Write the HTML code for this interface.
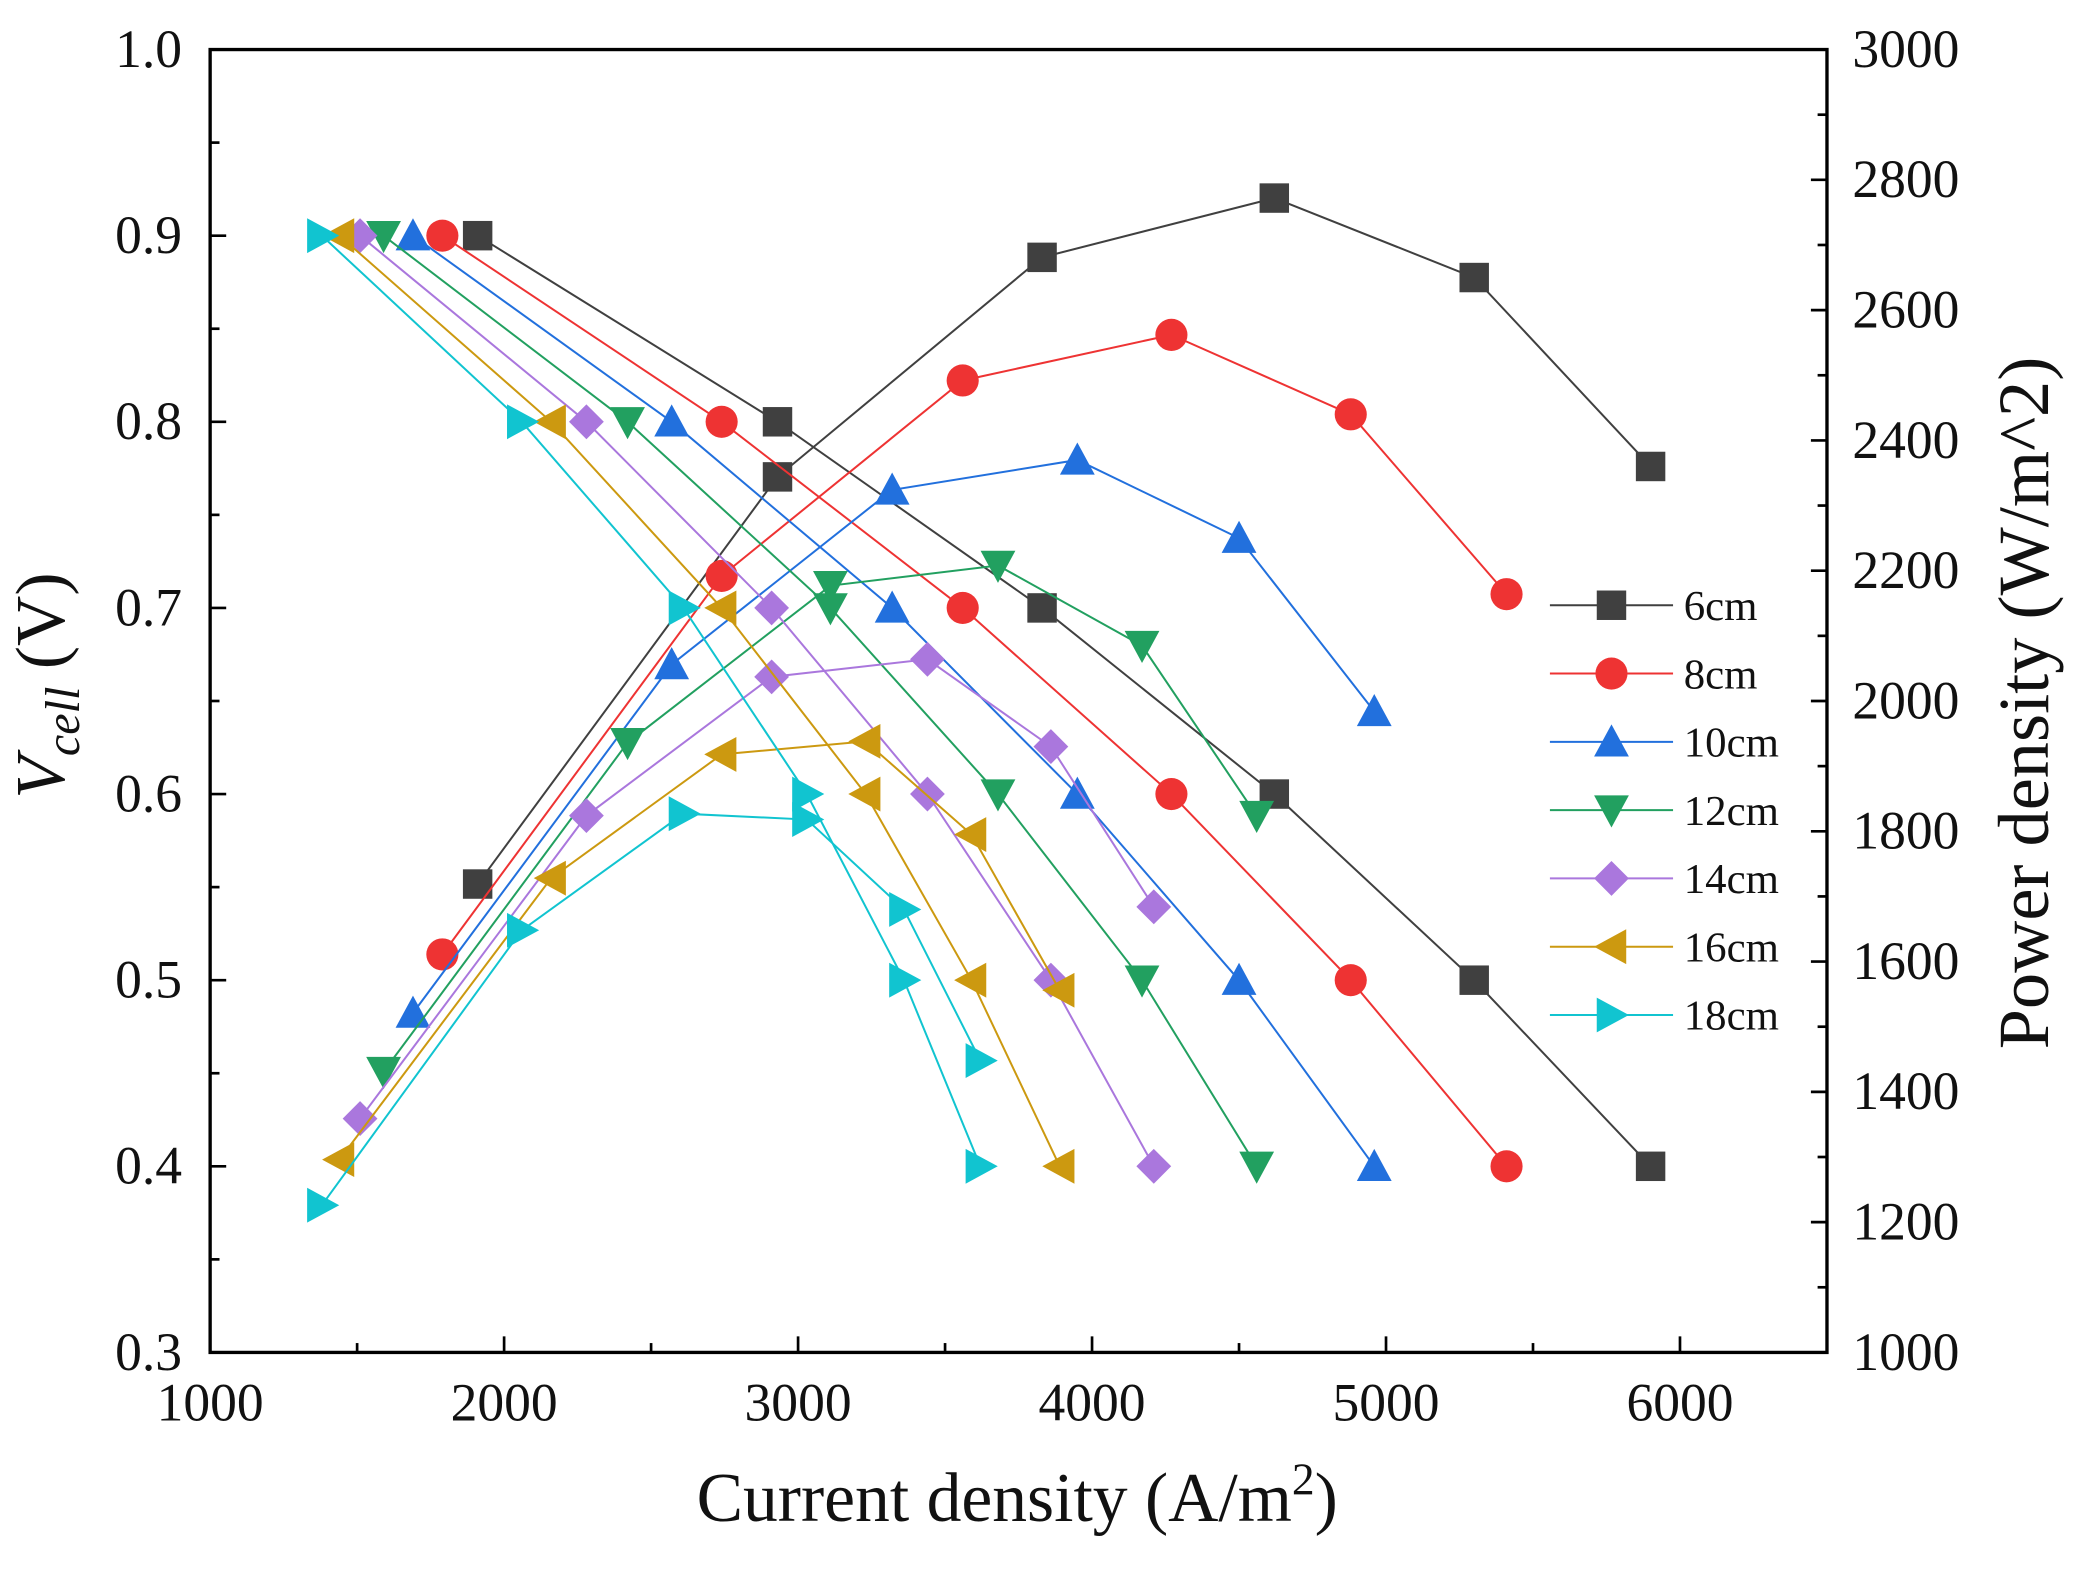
<!DOCTYPE html>
<html><head><meta charset="utf-8"><style>
html,body{margin:0;padding:0;background:#fff}
svg text{font-family:"Liberation Serif",serif;fill:#111}
</style></head><body>
<svg id="chart" width="2096" height="1564" viewBox="0 0 1566 1168" preserveAspectRatio="none" xmlns="http://www.w3.org/2000/svg"></svg>
<script>
const seriesNames = ["6cm","8cm","10cm","12cm","14cm","16cm","18cm"];
const colors = ["#404040","#ee3333","#2270dd","#22a060","#aa77dd","#cc9910","#11c4d0"];
const markers = ["square","circle","up","down","diamond","left","right"];
const current6 = [1910,2930,3830,4620,5300,5900];
const current8 = [1790,2740,3560,4270,4880,5410];
const current10 = [1690,2570,3320,3950,4500,4960];
const current12 = [1590,2420,3110,3680,4170,4560];
const current14 = [1510,2280,2910,3440,3860,4210];
const current16 = [1440,2160,2740,3230,3590,3890];
const current18 = [1380,2060,2610,3030,3360,3620];
const volt6 = [0.9,0.8,0.7,0.6,0.5,0.4];
const volt8 = [0.9,0.8,0.7,0.6,0.5,0.4];
const volt10 = [0.9,0.8,0.7,0.6,0.5,0.4];
const volt12 = [0.9,0.8,0.7,0.6,0.5,0.4];
const volt14 = [0.9,0.8,0.7,0.6,0.5,0.4];
const volt16 = [0.9,0.8,0.7,0.6,0.5,0.4];
const volt18 = [0.9,0.8,0.7,0.6,0.5,0.4];
const power6 = [1719,2344,2681,2772,2650,2360];
const power8 = [1611,2192,2492,2562,2440,2164];
const power10 = [1521,2056,2324,2370,2250,1984];
const power12 = [1431,1936,2177,2208,2085,1824];
const power14 = [1359,1824,2037,2064,1930,1684];
const power16 = [1296,1728,1918,1938,1795,1556];
const power18 = [1226,1648,1827,1818,1680,1448];
const xTicks = [1000,2000,3000,4000,5000,6000];
const yLeftTicks = [0.3,0.4,0.5,0.6,0.7,0.8,0.9,1.0];
const yRightTicks = [1000,1200,1400,1600,1800,2000,2200,2400,2600,2800,3000];

const currents=[current6,current8,current10,current12,current14,current16,current18];
const volts=[volt6,volt8,volt10,volt12,volt14,volt16,volt18];
const powers=[power6,power8,power10,power12,power14,power16,power18];
const L=157,R=1365,T=37,B=1010;
const sx=v=>L+(v-1000)/5500*(R-L);
const sy=v=>B-(v-0.3)/0.7*(B-T);
const sp=v=>B-(v-1000)/2000*(B-T);
const svg=document.getElementById('chart');
const NS="http://www.w3.org/2000/svg";
function mk(tag,attrs,parent){const e=document.createElementNS(NS,tag);for(const k in attrs)e.setAttribute(k,attrs[k]);(parent||svg).appendChild(e);return e;}
function txt(s,x,y,size,anchor,parent){const t=mk('text',{x:x,y:y,'font-size':size,'text-anchor':anchor||'middle'},parent);t.textContent=s;return t;}

const frame=mk('rect',{x:L,y:T,width:R-L,height:B-T,fill:'none',stroke:'#000','stroke-width':2.5});



const xAxis=mk('g',{});


for(let v=1000;v<=6500;v+=500){const major=v%1000===0;mk('line',{x1:sx(v),x2:sx(v),y1:B,y2:B-(major?12:7),stroke:'#000','stroke-width':2},xAxis);}
xTicks.forEach(v=>{const t=txt(String(v),sx(v),1061,40,'middle',xAxis);});
const yAxis=mk('g',{});


for(let i=0;i<=14;i++){const v=0.3+i*0.05;const major=i%2===0;mk('line',{x1:L,x2:L+(major?12:7),y1:sy(v),y2:sy(v),stroke:'#000','stroke-width':2},yAxis);}
yLeftTicks.forEach(v=>{const t=txt(v.toFixed(1),136,sy(v)+13,40,'end',yAxis);});
const yAxisR=mk('g',{});


for(let v=1000;v<=3000;v+=100){const major=v%200===0;mk('line',{x1:R,x2:R-(major?12:7),y1:sp(v),y2:sp(v),stroke:'#000','stroke-width':2},yAxisR);}
yRightTicks.forEach(v=>{const t=txt(String(v),1384,sp(v)+13,40,'start',yAxisR);});

const xt=mk('text',{x:760,y:1136,'font-size':52,'text-anchor':'middle'});
xt.innerHTML='Current density (A/m<tspan dy="-20" font-size="34">2</tspan><tspan dy="20">)</tspan>';


const yt=mk('text',{x:0,y:0,'font-size':52,'text-anchor':'middle',transform:'translate(48,512) rotate(-90)'});
yt.innerHTML='<tspan font-style="italic">V</tspan><tspan font-style="italic" font-size="36" dy="11">cell</tspan><tspan dy="-11"> (V)</tspan>';


const yr=mk('text',{x:0,y:0,'font-size':54,'text-anchor':'middle',transform:'translate(1530,525) rotate(-90)'});
yr.textContent='Power density (W/m^2)';



function marker(type,x,y,color,parent){const s=11;let e;
 if(type==='square')e=mk('rect',{x:x-s,y:y-s,width:2*s,height:2*s,fill:color},parent);
 else if(type==='circle')e=mk('circle',{cx:x,cy:y,r:s+1,fill:color},parent);
 else{let p;
  if(type==='up')p=[[x,y-s-2],[x+s+2,y+s],[x-s-2,y+s]];
  if(type==='down')p=[[x,y+s+2],[x+s+2,y-s],[x-s-2,y-s]];
  if(type==='left')p=[[x-s-2,y],[x+s,y-s-2],[x+s,y+s+2]];
  if(type==='right')p=[[x+s+2,y],[x-s,y-s-2],[x-s,y+s+2]];
  if(type==='diamond')p=[[x,y-s-2],[x+s+2,y],[x,y+s+2],[x-s-2,y]];
  e=mk('polygon',{points:p.map(q=>q.join(',')).join(' '),fill:color},parent);}
 return e;}

seriesNames.forEach((n,i)=>{
 const g=mk('g',{});
 
 
 const vp=currents[i].map((c,j)=>[sx(c),sy(volts[i][j])]);
 const pp=currents[i].map((c,j)=>[sx(c),sp(powers[i][j])]);
 const l1=mk('polyline',{points:vp.map(q=>q.join(',')).join(' '),fill:'none',stroke:colors[i],'stroke-width':1.5},g);
 
 
 const l2=mk('polyline',{points:pp.map(q=>q.join(',')).join(' '),fill:'none',stroke:colors[i],'stroke-width':1.5},g);
 
 
 vp.forEach(q=>{const m=marker(markers[i],q[0],q[1],colors[i],g);});
 pp.forEach(q=>{const m=marker(markers[i],q[0],q[1],colors[i],g);});
});

const lg=mk('g',{});


seriesNames.forEach((n,i)=>{
 const y=452+i*51;
 const e=mk('g',{},lg);
 
 
 mk('line',{x1:1158,x2:1250,y1:y,y2:y,stroke:colors[i],'stroke-width':1.5},e);
 marker(markers[i],1204,y,colors[i],e);
 txt(n,1258,y+11,32,'start',e);
});
</script>
</body></html>
